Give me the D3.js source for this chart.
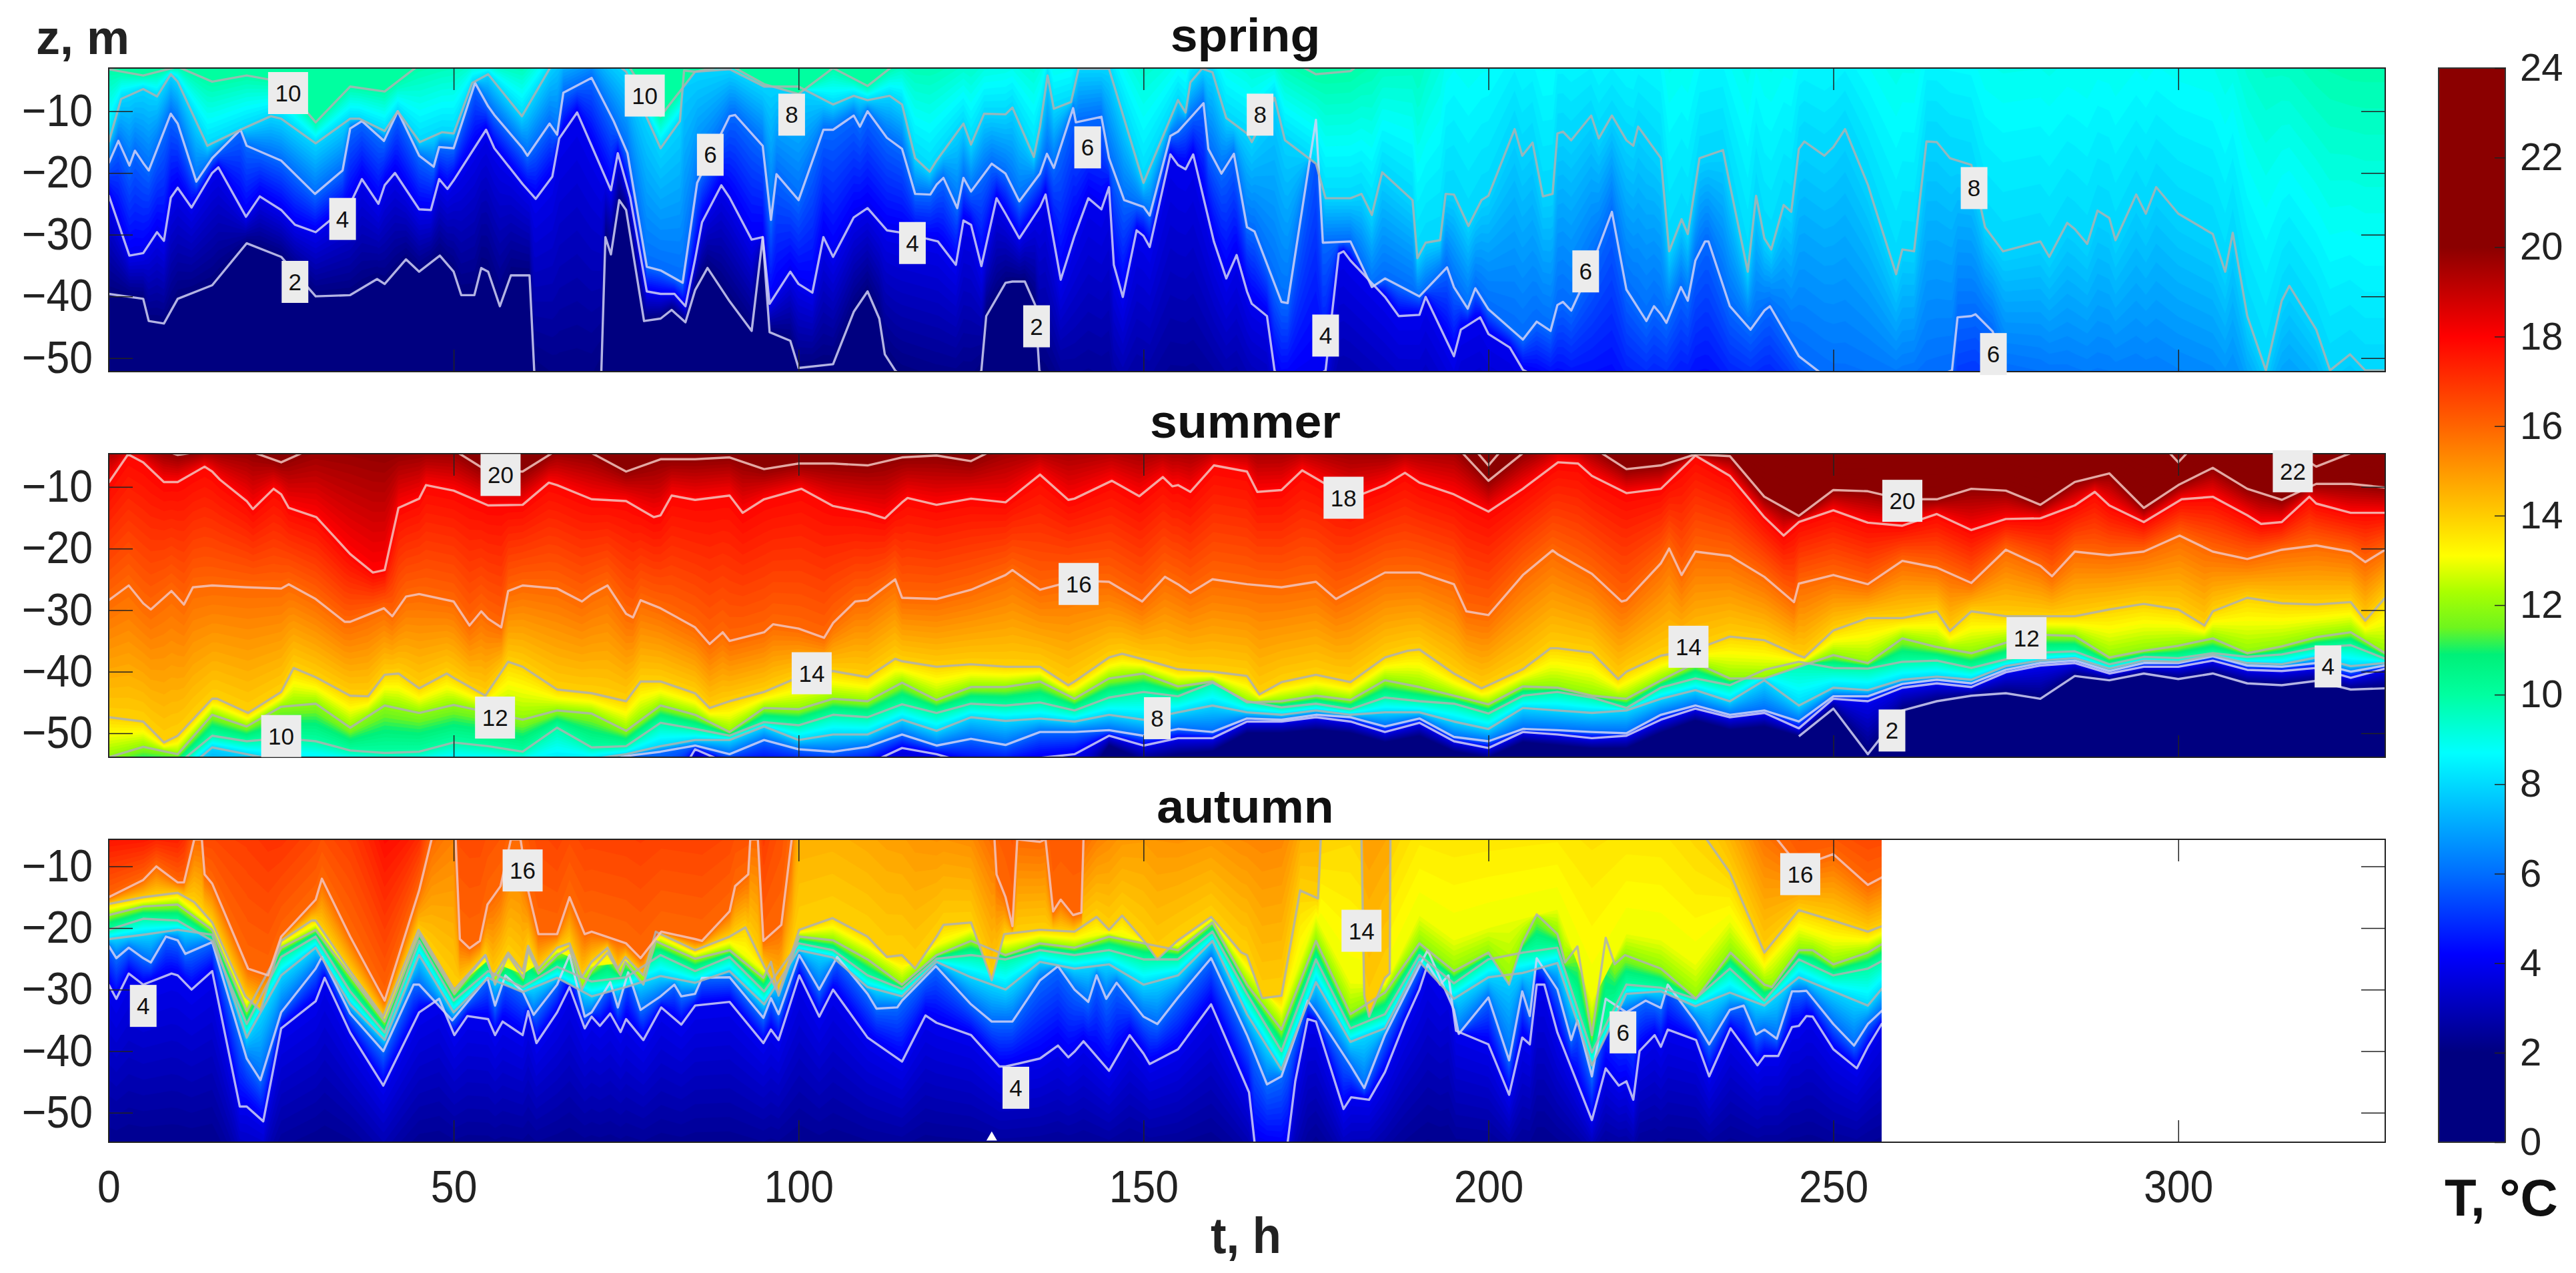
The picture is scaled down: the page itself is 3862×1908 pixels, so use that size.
<!DOCTYPE html>
<html>
<head>
<meta charset="utf-8">
<script src="https://cdn.jsdelivr.net/npm/d3@7"></script>
<style>
	body { margin:0; background:#fff; }
	text { font-family:"Liberation Sans", Arial, sans-serif; fill:#222; }
	.bold { font-weight:bold; }
	.tick line { stroke:#222; stroke-width:1.5; }
</style>
</head>
<body>
<div id="chart"></div>
<script>
// Isotherm depths z (m), every 5 h. Values above the panel top
// or under its bottom only steer the colour, their lines fall outside the clip.
var springL2 = [-39.6,-40.4,-40.4,-38.2,-31.4,-33.6,-40,-39.8,-38,-36,
	-36,-36,-36.6,-56,-56,-26,-43.6,-39,-40.8,-45,
	-51.6,-51,-39.2,-53,-55,-55,-37.8,-54,-60,-62,
	-64,-62,-62,-65,-68,-68,-66,-70,-72,-76,
	-76,-80,-85,-86,-88,-88,-88,-90,-90,-90,
	-92,-92,-92,-92,-92,-94,-94,-94,-94,-94,
	-96,-96,-96,-96,-96,-96,-96];
var springL4 = [-23.6,-33,-22.4,-20,-26.8,-26,-29.6,-25,-22,-25.9,
	-21.2,-13,-21.8,-17.6,-15.6,-20,-39.6,-34,-24,-36,
	-38,-33.6,-25.7,-29.7,-30,-28.4,-26.6,-25.5,-30.2,-22.3,
	-30.2,-18.7,-30.9,-39.2,-54,-53,-34.2,-40.1,-43,-49.7,
	-46.1,-51.9,-55,-58,-60,-60,-58,-60,-60,-62,
	-65,-68,-70,-70,-65,-70,-72,-74,-75,-76,
	-78,-80,-80,-82,-84,-85,-85];
var springL6 = [-18.4,-18.4,-12,-17.6,-15.6,-18,-22.8,-12.8,-14.6,-17.2,
	-16,-9.2,-16,-13.8,-4.6,-16.4,-35.8,-24,-10.8,-22,
	-24.4,-13,-10,-16.1,-21.9,-23,-20.1,-20.1,-11.7,-17.6,
	-25.5,-13.3,-18.3,-28.8,-40.9,-12.5,-31.1,-37.1,-40,-38.5,
	-42.1,-47,-41.4,-35,-38.9,-42.9,-34.2,-41.6,-42.3,-49.7,
	-54,-55,-55,-53,-43.2,-52.5,-54,-56,-57,-58,
	-60,-62,-64,-66,-68,-70,-70];
var springL8 = [-15,-6.4,-5.2,-15.2,-12.4,-11.2,-15.2,-11.2,-13.2,-15,
	-13.6,-4,-10.8,-1,1,-3.6,-16,-3.6,-3.2,-6,
	-6,-8.9,-8.2,-8.9,-18,-15.4,-10.5,-12.5,-3.9,0,
	-21.6,-8.2,-3.7,-13.6,-12.5,-18.5,-24.1,-20.5,-32.4,-23.5,
	-23.7,-17.2,-13.6,-11,-14.7,-17.6,-19,-21.9,-30.6,-16.1,
	-15.8,-21.9,-32.4,-15,-18.7,-32.7,-31.1,-29.1,-27.3,-26.2,
	-26.6,-29.9,-43.2,-40.7,-45.4,-48.6,-52];
var springL10 = [-3.2,-4.2,-2.8,-5.2,-4.2,-5.2,-11.8,-6,-6.8,-2.5,
	-1,-2,-2,3,5,-2,-10.8,-3.6,-2.5,-5.6,
	-7.2,-3,-5.9,-1.5,-1,1,3,3,4,8,
	4,4,6,3,-1,-4,-3.5,1,3,25,
	25,25,25,20,20,25,25,25,25,25,
	25,25,25,25,25,25,25,25,25,25,
	25,25,15,8,2,-1,-1];

var summerL2 = [-66,-66,-66,-66,-66,-66,-66,-66,-66,-66,
	-66,-66,-66,-66,-66,-66,-66,-56,-60,-60,
	-60,-60,-60,-60,-60,-60,-60,-60,-60,-52,
	-54.5,-53.5,-53,-50,-50,-49.5,-50,-51.5,-50.5,-53,
	-54,-51.5,-52,-52.5,-52.5,-50,-48,-49.5,-49,-50.5,
	-46,-53.4,-46.3,-44.8,-43.9,-43.5,-44.4,-40.7,-41.4,-40.3,
	-41.2,-40.3,-41.9,-42.2,-41.5,-42.9,-42.7];
var summerL4 = [-62,-62,-62,-62,-62,-62,-62,-62,-62,-62,
	-62,-62,-62,-62,-62,-62,-62,-52.6,-55,-55,
	-55,-56,-55,-52.4,-53.4,-55,-55,-54,-53.4,-50.4,
	-52,-50.8,-50.8,-48.1,-48.1,-47.4,-48.1,-49.8,-48.3,-51.3,
	-52.4,-49.8,-50.2,-50.8,-50.4,-47.8,-46,-47.4,-46.7,-49.2,
	-44.4,-44.8,-42.6,-41.9,-42.5,-40.1,-39,-38.6,-40.3,-39.2,
	-39.2,-38.2,-39.7,-39.9,-39.4,-41,-39.5];
var summerL6 = [-60,-60,-60,-58,-58,-58,-58,-58,-58,-58,
	-58,-58,-58,-58,-55,-53.7,-53,-52,-53.4,-51.1,
	-52.6,-53,-52.2,-50.2,-52,-50.9,-51.9,-49.8,-49.8,-49.5,
	-50.4,-49.3,-49.8,-47.6,-47.8,-47,-47.4,-48.9,-47.6,-50.6,
	-51.3,-49.3,-49.5,-49.8,-50,-47,-45.5,-47,-46.3,-48.1,
	-44,-44,-42,-41.3,-41.9,-39.7,-38.6,-38.2,-39.9,-38.6,
	-38.6,-37.5,-39,-39.2,-38.6,-40,-39];
var summerL8 = [-58,-58,-57,-52.3,-53.4,-54.5,-54.8,-55,-55,-55,
	-55,-55,-55,-55,-54.2,-53.4,-52.1,-51.1,-51.1,-48.9,
	-51.1,-50.2,-50.2,-47.8,-49.6,-47.4,-48,-47.6,-48.1,-47,
	-47.8,-46.6,-45.5,-46.6,-47,-46.3,-47,-46.6,-46.6,-48.1,
	-49.3,-45.9,-46.3,-46.7,-46.3,-44.4,-43,-44.8,-41.4,-45.5,
	-42.6,-43,-41.3,-40.8,-41.3,-39.1,-38.2,-37.8,-39.5,-38.2,
	-38.4,-37.3,-38.6,-38.8,-37.7,-39.1,-38.6];
var summerL10 = [-56,-56,-55,-50.4,-51.3,-50.8,-51.3,-52.8,-53.2,-53,
	-51.5,-52.1,-53,-49.1,-52.3,-52.1,-48.3,-49.3,-50.4,-48.2,
	-48.7,-47,-47.4,-45.3,-46.7,-45.2,-45.5,-45,-46.3,-44.2,
	-43.3,-44,-41.8,-44.8,-45.8,-45.2,-46.1,-44.2,-44.8,-45.2,
	-46.8,-43.9,-43.3,-44.2,-45.9,-42.6,-41.1,-42.2,-39.7,-38.4,
	-39.4,-39.5,-38.4,-38.2,-39.4,-38,-36.9,-36.7,-38.8,-37.6,
	-37.8,-37,-37.6,-37.2,-36.1,-35.7,-37.9];
var summerL12 = [-53.9,-52.2,-53.4,-47,-48.9,-45.7,-45.2,-49.1,-45.5,-46.7,
	-45.4,-46.6,-47.8,-46.3,-46.8,-49.6,-45.5,-47,-49.8,-45.9,
	-46.1,-44.4,-44.8,-41.8,-44.6,-42.5,-42.5,-41.6,-44.4,-41.1,
	-40.3,-42.4,-41.6,-45,-44.8,-43.9,-44.6,-41.4,-42.5,-43.9,
	-45.3,-42.4,-42.6,-43.9,-44.4,-41.4,-38.6,-41.1,-41.1,-39.2,
	-37.3,-38.6,-34.6,-36,-37,-35.3,-34,-34.2,-37.7,-36.6,
	-35.8,-34.6,-37,-35.9,-34.4,-33.6,-37];
var summerL14 = [-47.4,-48.1,-50.4,-44.4,-46.6,-43.3,-40.9,-43.9,-40.5,-42.7,
	-41,-43.9,-39.2,-42.9,-43.5,-44.8,-41.6,-43.5,-44.8,-43.3,
	-40.9,-39.9,-40.9,-38.3,-39.2,-38.8,-39.2,-39.2,-41.6,-37.7,
	-38,-39.6,-40,-40.7,-41.7,-40.5,-41.7,-37.7,-36.4,-40.3,
	-42.2,-39.6,-36.2,-36.9,-40,-37.4,-36.4,-34.3,-34.9,-37.4,
	-33.3,-31.3,-31.3,-30.2,-30.2,-31,-31,-31,-29.9,-29,
	-29.9,-30.2,-28,-28.9,-29.1,-28.7,-28];
var summerL16 = [-28.4,-28.9,-28,-26,-26.3,-26.5,-28.2,-31.9,-29.9,-27.4,
	-28.6,-31.4,-26,-26.5,-27.4,-30.6,-29.7,-32.8,-35,-33.6,
	-33,-32.1,-28.4,-28,-28.2,-26.7,-24.3,-26.7,-25.2,-25.4,
	-28.4,-25.8,-25,-25.8,-26.3,-25.4,-26.9,-23.9,-23.9,-25.8,
	-30.8,-24.3,-20.9,-24.1,-28.4,-22.4,-20.5,-21.2,-24.6,-25.7,
	-24.3,-25.8,-22,-23.1,-25.6,-20.2,-22.8,-20.5,-21.1,-20.5,
	-17.9,-20.5,-21.7,-20.2,-19.5,-20.5,-20.2];
var summerL18 = [-9.3,-6,-9.2,-7.5,-12.3,-11.2,-15.7,-20.9,-23.5,-11.9,
	-10.6,-13,-12.9,-9.7,-12,-12.3,-14.6,-12.1,-11.4,-12,
	-10.3,-13.1,-14.2,-12.5,-12.9,-11.9,-12.5,-8,-11.9,-9.7,
	-11.5,-9.7,-6.7,-7.5,-10.5,-8.6,-11.9,-9.7,-9.3,-11.2,
	-14,-10.3,-6,-8.2,-11,-10.3,-4.9,-8.2,-14.9,-15.7,
	-13.8,-15.8,-16.3,-14.4,-17,-15.2,-15.1,-13,-13,-15.7,
	-12.1,-11.6,-14.6,-15.7,-12.7,-14.2,-14.2];
var summerL20 = [-3,-3,-4.8,-4,-4,-6,-3.5,-3.5,-4.5,-4,
	-4,-7.5,-7.5,-4,-4.5,-7.5,-5.5,-5.5,-5.2,-7.1,
	-6.2,-6.2,-6.5,-5.2,-4.9,-5.8,-3,-3,-2.5,-2.5,
	-3,-3,-3,-3,-3,-3,-3.5,-4,-3,-3,
	-9,-4.5,-2,-3.5,-7.1,-6.5,-4.7,-5,-11.6,-14.7,
	-10.5,-10.7,-12,-12,-10.3,-10.6,-12.9,-9.2,-7.8,-13.4,
	-9.7,-6.9,-10.3,-12.1,-9.5,-9.5,-10.1];
var summerL22 = [0,0,0,0,0,0,0,0,0,0,
	0,0,0,0,0,0,0,0,0,0,
	0,0,0,0,0,0,0,0,0,0,
	0,0,0,0,0,0,0,0,0,0,
	-6.5,0,0,0,0,0,0,0,0,0,
	0,0,0,0,0,0,0,0,0,0,
	-6,0,0,-3,-6.7,-4.5,-3];

var autumnL2 = [-60,-60,-60,-60,-66,-62,-60,-60,-64,-60,
	-60,-60,-60,-60,-60,-60,-60,-60,-60,-60,
	-60,-60,-60,-60,-60,-60,-60,-60,-60,-60,
	-60,-60,-60,-62,-70,-60,-64,-62,-60,-60,
	-60,-60,-60,-60,-60,-60,-60,-60,-60,-60,
	-60,-60,-60];
var autumnL4 = [-29.2,-29.2,-27.7,-27,-49,-36.3,-31.9,-37,-45.6,-33.7,
	-37.4,-34.8,-37.4,-33.7,-34.4,-34.8,-33.1,-32.6,-32,-38.5,
	-27.7,-30,-37.8,-41.7,-35.4,-37.4,-42.5,-41.2,-40.1,-43.2,
	-40.4,-39.7,-32.4,-43,-56,-35.2,-47.9,-43.4,-30,-37.4,
	-38.9,-37.8,-37,-51.2,-44.9,-38.9,-38.2,-36.3,-40.8,-35.9,
	-39.7,-39.3,-34];
var autumnL6 = [-22.9,-24.9,-22,-22.4,-41.2,-33.7,-26.6,-33.9,-41,-29.2,
	-35,-27.8,-30.3,-29.2,-33.7,-30,-31.1,-30.7,-28,-34.4,
	-24.4,-26.2,-30.7,-31.8,-26.4,-32.4,-35.2,-28.5,-30,-31.5,
	-34.4,-31.3,-24.9,-37.4,-44.1,-33.7,-42.3,-37.4,-26.2,-33.3,
	-31.3,-30.3,-30,-44.1,-33.7,-33,-35.2,-33.3,-36.5,-30.3,
	-35.6,-35.6,-30.3];
var autumnL8 = [-21.8,-21.1,-20.3,-21.1,-37.8,-27.7,-23.2,-32.4,-38.2,-24.4,
	-33.7,-28.1,-30.4,-28.1,-31.1,-29.6,-27.8,-28.9,-27,-32.4,
	-23.6,-24.8,-29.6,-31.1,-25.5,-28,-30,-25.5,-26.6,-25.9,
	-29.2,-27.7,-22.1,-34,-43,-28.8,-38.5,-36.3,-25.5,-31.5,
	-28,-27.3,-25.7,-42.3,-30.7,-30.3,-32.7,-30.5,-32.6,-28,
	-30.3,-32.6,-25.9];
var autumnL10 = [-20.3,-18.5,-18.8,-22.1,-35.6,-24.7,-21.4,-30.3,-37,-22.1,
	-31.8,-27,-29.6,-26.3,-28.7,-28,-24.4,-27,-24.7,-30.3,
	-22.5,-23.6,-27.7,-29.9,-25,-24.4,-25.1,-23.6,-24.4,-23.6,
	-25.1,-25.1,-20.6,-30.7,-40,-25.1,-36.3,-34,-24.4,-29,
	-25.1,-24,-23.2,-40.2,-29.2,-29.7,-31.5,-26.6,-31.8,-25.1,
	-27.7,-26.6,-23.6];
var autumnL12 = [-17.9,-16.5,-16.2,-20.3,-33.5,-23.2,-20.3,-27.7,-35.2,-21,
	-30.5,-25.7,-28,-24.4,-26.9,-26.5,-22.5,-25,-23.6,-28,
	-21.4,-22,-25.1,-29.2,-24.4,-22.1,-24.4,-22.5,-23.2,-21.4,
	-22.5,-23.6,-19.1,-29.2,-36.5,-22.1,-34,-30.5,-22.5,-27,
	-24,-22.5,-21,-37.4,-25.5,-26.6,-31.5,-24,-29.2,-23.6,
	-25.9,-24,-20.6];
// 13 deg has no line in the picture, it only holds the yellow up to the top
var autumnL13 = [-17,-15.8,-15.2,-19.7,-32.3,-22.6,-19.5,-27.3,-34.6,-20.6,
	-30,-25.2,-27.5,-23.8,-26.2,-25.6,-21.7,-24.3,-22.5,-27.1,
	-20.8,-20.2,-23.2,-26.8,-22.9,-20.6,-22.7,-21.4,-21.9,-20.8,
	-22.2,-22.8,-18.6,-26.8,-33.7,-18.4,-29,-29.3,-18,-22,
	-20,-18.5,-17,-32,-21,-22,-26,-19,-26.6,-20.3,
	-22.3,-22.3,-19.5];
var autumnL14 = [-16.1,-15,-14.3,-19.1,-31.1,-22.1,-18.8,-27,-34.1,-20.3,
	-29.6,-24.7,-27,-23.2,-25.5,-24.7,-21,-23.6,-21.4,-26.2,
	-20.3,-18.4,-21.4,-24.4,-21.4,-19.1,-21,-20.3,-20.6,-20.3,
	-22,-22,-18.2,-24.4,-31,-14.7,-2,-28.1,5,5,
	5,5,5,5,5,5,-3,-11,-24,-17.1,
	-18.8,-20.6,-18.4];
var autumnL16 = [-15,-12.2,-12.6,-12.8,-24.4,-21.4,-15.4,-21.4,-31.8,-13.9,
	2,-16.2,-3,-21,-20.6,-22.5,-20.6,-21.8,-17.3,-22.1,
	25,25,20,15,5,2,-15,-6,-15.8,2,
	10,5,5,3,5,15,20,25,40,40,
	40,40,40,40,40,40,40,10,-3,-10,
	-8,-13,-10];
var autumnL18 = [-4,-4,-3,10,20,8,15,15,-4,0,
	40,30,40,20,20,20,20,20,20,15,
	80,80,80,80,80,80,60,60,60,80,
	80,80,80,80,80,80,80,80,80,80,
	80,80,80,80,80,80,80,80,40,15,
	8,10,8];

// Peaks and troughs between the 5 h readings: [t, z]
var springL2Peaks = [[5.8,-44],[8,-44.4],[38.9,-37.2],[43.1,-34],[48,-33.4],[51.1,-39.8],[53,-39.8],[54,-35.4],[56.7,-41.6],[58.3,-36.6],[61,-36.6],[61.7,-52.5],[71.4,-52.5],[72,-30.4],[72.8,-33.2],[74,-24.4],[77.6,-44],[81.6,-42.2],[83.6,-44.2],[86.8,-35.4],[93.2,-45.6],[94.8,-30.4],[95.8,-45.8],[98.8,-47.2],
	[108,-42.5],[111.7,-43.6],[112.5,-49.4],[114,-52],[126.5,-52],[127.2,-43.2],[131,-37.6],[132.8,-37.6],[134.3,-41.4],[134.9,-52]];
var springL4Peaks = [[3,-33.4],[7,-29.6],[8,-31],[9,-24],[12,-25.6],[15.9,-19.1],[19.9,-27.1],[21.9,-23.8],[27,-28.4],[36.7,-21],[39.1,-25],[41.5,-20],[46.7,-26],[47.9,-21],[49.1,-22.6],[54.7,-13],[55.9,-16],[61.9,-24.2],[64.3,-20.6],[65.3,-14.4],[67.9,-10.2],[72.8,-22.8],[73.8,-16.8],[75.6,-24],[78,-39.2],[82,-39.6],[83.6,-41.6],[86,-28],[88.8,-22],[93.2,-30.8],[94.8,-30.4],[95.8,-41.2],[98.8,-36],[102,-39.4],[103.6,-30.4],[108,-27.2],
	[112.8,-29.3],[120.2,-31.1],[122.8,-34.9],[123.9,-27.7],[126.5,-35.1],[128.7,-24.1],[132,-30.6],[135.8,-23.5],[138,-37.3],[142,-24.1],[143.9,-25.9],[145.7,-34.9],[147,-40.1],[149,-29.3],[150.9,-32],[153.9,-17],[156.1,-19.4],[157.2,-17],[160.2,-31.1],[162,-37.1],[163.5,-33.3],[165.7,-41.2],[167.9,-43.2],[169,-52],[176.4,-52],[178.3,-33.1],[179,-32.7],[187,-43.2],[190.9,-40.1],[195,-49.7],[196,-45.4],[198.8,-43.4],[203.1,-48.3]];
var springL6Peaks = [[1.4,-14.8],[3,-18.8],[3.8,-16.4],[5.8,-19.6],[9,-10.4],[12.7,-21.4],[19.1,-13],[29.9,-23.4],[33.9,-19.6],[36.7,-11.6],[39.9,-14.8],[41.9,-10],[47.1,-19],[47.9,-15.8],[53.1,-5.4],[55.9,-10.6],[60.7,-17.2],[63.9,-12],[65.9,-7],[73.2,-11.6],[75.2,-16.8],[78,-35.2],[83.2,-37.8],[85.3,-21.6],[90.8,-10.6],[94.8,-15.6],[96,-27.6],[96.8,-20.2],[100,-24.4],[103.6,-13],
	[108,-10.7],[108.9,-12.5],[112.8,-14.3],[116.9,-23.4],[119.1,-23.5],[121,-20.8],[123,-25.7],[123.9,-20.8],[128,-18.5],[132,-24.6],[136,-16.9],[137,-19.2],[139.8,-9.5],[140.2,-11.8],[143.9,-10.9],[147.2,-24.4],[150.9,-26.9],[153.9,-14],[158.7,-8.7],[159.4,-16.1],[161.3,-20.1],[163.1,-16.9],[166.1,-29.5],[170.9,-41.1],[175,-11.4],[176,-31.3],[183.1,-38.5],[194,-35.3],[197,-42],[198.1,-38.7],[205,-47],[207,-44.1],[209,-45.6],[210.8,-40.9],[212,-42.3],[217.9,-26.3],
	[222.9,-44],[224,-41.6],[225.8,-44.3],[227.9,-38.5],[228.9,-40.7],[231.4,-31.1],[231.9,-31.1],[238,-45.4],[240.8,-41.6],[267.2,-52],[268,-43.4],[270.6,-42.9],[273.1,-45.7]];
var springL8Peaks = [[1.8,-8],[7,-7.6],[9,-4],[14.3,-15.6],[19.5,-12.8],[23.5,-10.8],[30,-15.2],[36.3,-11.2],[41.9,-10],[45.1,-15],[48.3,-13.4],[52.7,-5.4],[59.9,-10.8],[82.8,-11.6],[83.4,-3.4],
	[108,-7.5],[113.2,-7.5],[116.9,-17.6],[119,-19.8],[123.9,-12],[125,-15.4],[126.9,-10.4],[131,-9.4],[134.1,-17.4],[136.1,-4.2],[137,-9.6],[139.5,-8.5],[140.6,-3.1],[145,-3.1],[156.1,-10.2],[156.8,-5.3],[158.5,-3.1],[162,-11.1],[165.7,-15],[169,-7.8],[170.5,-14.7],[176.4,-24.1],[181.6,-23.4],[183.1,-26.8],[184.6,-19.9],[189,-24.4],[189.7,-33.8],[190.9,-31.3],[193,-30.9],[193.8,-23.4],[197.1,-28.6],[199,-24.4],[203.8,-12.9],[204.9,-17.2],[206.4,-15.1],[207.9,-23.8],[209.3,-23.4],[210.8,-13.3],[212,-14.7],[214.9,-10.7],[216,-14.4],[217.9,-10.7],
	[221,-15.6],[221.7,-12.5],[226.2,-32.7],[228,-27.5],[228.9,-29.9],[230.6,-17.6],[234,-16.3],[237.6,-36],[238.8,-23.7],[241,-32.4],[242.8,-25.2],[243.9,-26.3],[245.8,-14.9],[248.7,-17.2],[251.7,-12.9],[255.8,-24.8],[259.1,-36.4],[261.7,-32.7],[263.5,-14.9],[266.9,-17.6],[272,-28.8],[274.6,-32.7],[281.3,-33.6],[283.9,-28.1],[286.8,-31.5],[288.3,-26.1],[290.9,-30.9],[293.9,-23.5],[295.3,-26.6],[296.8,-22.3],[306.8,-36],[307.9,-29.7],[312.7,-52],[316.1,-38.3],[322,-52],[324.9,-49.4],[327.1,-52]];

var summerL14Peaks = [[8,-51.5],[15.7,-44.4],[20.2,-46.7],[26.8,-39.4],[37.6,-44],[42,-40.3],[49,-40.3],[54.6,-43.9],[57.9,-38.4],[77.1,-41.6],[87.1,-45.9],
	[114,-37.9],[139.1,-42.2],[146.9,-37.1],[166.8,-43.7],[188.3,-36.6],[199,-42.7],[209,-36.2],[218.8,-41.2],[245.8,-37.7],[265,-30.2],[266.9,-33.4],[303.8,-32.5],[327.1,-31.7]];
var summerL16Peaks = [[2.9,-26],[6.1,-29.9],[9.1,-26.9],[10.9,-29.1],[12.2,-26.3],[26.1,-25.8],[34.2,-31.9],[39.9,-29.7],[41.1,-31],[43.1,-27.8],[52.3,-32.5],[54,-30.2],[56.9,-32.8],[57.9,-26.9],[68.6,-28.6],[72.3,-26],[76,-31.2],[77.1,-28.4],[87.1,-35.5],[89,-33.6],[96.3,-32.3],[103.7,-34.5],[108.2,-28.6],
	[114,-25],[131,-23.5],[149.8,-28.6],[153.1,-24.6],[156.8,-27.2],[177.9,-28.2],[196.8,-30.2],[209.3,-20.3],[219.3,-28.6],[226.2,-20],[228,-24.3],[244.3,-28.7],[281.7,-24.5],[300.2,-17.9],[327.1,-22.2]];
var summerL18Peaks = [[2.8,-4.7],[8,-9.2],[13.9,-6.7],[16.1,-8.8],[20.9,-13.6],[23.9,-10.3],[26.1,-13.4],[30.1,-14.9],[38.3,-23.9],[42,-13.4],[46,-9.7],[55,-13],[63.8,-9.3],[79,-14.9],[81.6,-11.4],[91.9,-14.2],[100.4,-10.3],
	[112.5,-15.1],[115.8,-11.8],[135,-8],[139.1,-12.1],[145.4,-9],[149.4,-11.5],[152.8,-8.4],[154.2,-9.9],[156.8,-10.8],[160.2,-6.5],[166.5,-10.8],[173,-7.3],[187.9,-7.7],[200,-14],[210.1,-6],[213,-6.2],[242.8,-17.9],[287.9,-10.8],[300.5,-12],[312,-16],[319,-11.6]];

var autumnL4Peaks = [[1.1,-31.5],[2.9,-27.4],[9.1,-27.4],[12,-30],[15,-27],[19,-49],[22.4,-51.4],[31.3,-28.1],[39.8,-45.6],[47.9,-31.5],[50.1,-37.4],[52,-34.3],[56,-37.4],[57.1,-35.2],[60.8,-33.5],[62,-38.7],[66.8,-29.6],[69,-36.3],[71.2,-35.9],[72.7,-33.9],[74.2,-36.9],[77.5,-38.2],[80.1,-32.9],[83,-35.7],[94.9,-38.7],[96,-36.5],[97.1,-38.2],[100.1,-27.7],[103,-34.4],
	[115,-41.7],[118.4,-34.2],[129.1,-42.5],[137.6,-39.1],[139.1,-41],[141.3,-38.4],[145,-43.2],[148,-37.4],[150.9,-42.1],[159.8,-32.4],[165.3,-46.7],[166.1,-54.8],[170.9,-54.8],[172,-44.9],[173.8,-34.8],[179,-49.4],[180.1,-47.5],[182.7,-47.9],[187.9,-35.2],[191.2,-25.9],[193,-29.2],[194.2,-27.7],[195.3,-36.7],
	[203,-47.1],[204.9,-37.8],[206,-38.9],[207,-29.2],[208.1,-29.2],[215,-51.2],[217,-42.8],[218.9,-45.6],[220,-44.9],[221,-47.9],[221.9,-40],[224.1,-37.4],[225,-39.3],[226,-36.5],[230.1,-38.2],[232,-44.1],[235.1,-36.3],[239,-42.3],[242,-40.8],[244,-36.1],[246.1,-34.3],[247,-34.4],[253.4,-42.8],[257,-35.6]];
var autumnL6Peaks = [[1.1,-24.9],[2.9,-23.2],[6.1,-25.6],[8.3,-21.4],[11.1,-24.2],[15,-22.3],[22,-44.7],[30.9,-24.7],[39.8,-40],[44.2,-29.2],[49.8,-35],[54.9,-28.1],[56,-32.6],[57.5,-27.7],[61.6,-34.1],[66.8,-24.4],[69,-34.4],[72.7,-28.8],[73.8,-32.9],[75.3,-27.2],[77.1,-33.3],[82,-29.2],[83,-31.1],[86,-28.1],[94.9,-34.6],[96,-31.4],[97.1,-34],[100.1,-24.4],[103,-30],[105.6,-24.7],
	[111.3,-33.1],[114.3,-32.9],[119.9,-26.2],[128,-35.2],[131,-35.2],[137.6,-26.2],[142,-32],[143.2,-27.7],[144.6,-31.5],[146.1,-28.9],[152,-35.6],[159.8,-24.9],[167.9,-45.4],[173.8,-31.8],[182,-46],[191.2,-23.6],[195.7,-37.2],
	[203,-41.5],[204.9,-30.3],[206,-34.3],[207,-24.9],[212,-38.2],[212.9,-35],[217,-31.5],[222.8,-31.8],[225,-33],[226,-29.2],[232,-38.9],[237,-32.6],[238.8,-37.3],[241.8,-38],[244,-30.3],[246.1,-30.2],[253,-39.1]];
var autumnL12Peaks = [[50.1,-30.7],[54.6,-24.4],[56,-29.2],[57.9,-24.4],[60.1,-28.1],[60.8,-23.6],[62.3,-27.4],[66.8,-23.2],[68.6,-30],[72.3,-24],[74.2,-27.7],[74.9,-25.5],[77.5,-29.2],[79.3,-22.1],[94.9,-28.1],[96,-25.5],[97.1,-31],[100.1,-21.4],
	[203,-29.2],[204.9,-22.5],[207,-17.8],[211.1,-25.6],[212.9,-23],[215,-37.4],[217,-21.6],[218.3,-25.9],[219.8,-24.4],[230.1,-31.5],[235.1,-24],[241.1,-29.6],[247,-23.6]];
var autumnL14Peaks = [[12.4,-15.8],[19.8,-31.1],[22,-33.4],[29.4,-18.8],[39.8,-34.4],[44.9,-20.3],[50.1,-30],[54.6,-24.4],[55.7,-28.1],[57.9,-24],[60.8,-22.9],[62.3,-26.6],[66.8,-22.5],[68.6,-28],[72.3,-23.2],[73.8,-26.6],[74.9,-24.7],[77.5,-27.7],[79.3,-20.6],[92.3,-19.9],[97.1,-30.7],[100.1,-20.3],[104.9,-18.4],
	[112.8,-24.7],[116.9,-26.6],[121,-19.5],[128,-28.5],[129.8,-21],[143.2,-18.2],[146.9,-18],[152,-25.1],[159.8,-18.2],[164.2,-24],[167.2,-31.4],[172.7,-13.9],[175.3,-15.2],[175.7,-5.6],[181.6,-5.6],[182,-31],[182.7,-34.4],[185.7,-27.4],[185.8,-5.6]];
var autumnL16Peaks = [[6.9,-10],[10.9,-12.6],[12.4,-5.6],[13.5,-5.6],[13.9,-11.3],[20.2,-26.6],[23.1,-27.7],[30.9,-12],[46.8,-5.6],[50.9,-21.8],[52.3,-23.3],[53.8,-22.1],[54.9,-16.2],[56.8,-13.2],[58.3,-5.6],[59.7,-5.6],[60.8,-13.9],[62.3,-21],[66.8,-15],[69,-21],[77.1,-24.9],[80.1,-20.6],[86,-22.1],[90.8,-13.2],[92.7,-11.3],[93,-5.6],[94.1,-5.6],[94.9,-22.1],[97.5,-19.5],[99,-5.6],
	[128.4,-5.6],[128.7,-11.3],[131,-19.7],[131.7,-5.6],[135.8,-5.6],[136.9,-17.3],[138,-15.4],[139.8,-17.9],[141,-17.5],[141.3,-5.6]];

// Contour labels: t, z, text
var springLabels = [[26,-7,"10"],[77.7,-7.4,"10"],[99,-10.5,"8"],[87.2,-17,"6"],[33.9,-27.4,"4"],[27,-37.6,"2"],
	[116.5,-31.3,"4"],[141.9,-15.8,"6"],[166.9,-10.5,"8"],[134.5,-44.8,"2"],[176.4,-46.3,"4"],[214.1,-35.9,"6"],
	[270.4,-22.4,"8"],[273.2,-49.3,"6"]];
var summerLabels = [[56.8,-8,"20"],[25,-50.4,"10"],[56,-47.4,"12"],[101.9,-40.2,"14"],[179,-11.7,"18"],[140.6,-25.7,"16"],
	[152,-47.5,"8"],[260,-12.2,"20"],[229,-35.9,"14"],[278,-34.5,"12"],[258.5,-49.5,"2"],[316.6,-7.4,"22"],[321.7,-39.1,"4"]];
var autumnLabels = [[60,-10.6,"16"],[5,-32.6,"4"],[131.5,-45.9,"4"],[181.6,-20.4,"14"],[219.5,-36.9,"6"],[245.2,-11.2,"16"]];

var depthTicks = [-10,-20,-30,-40,-50];
var timeTicks = [0,50,100,150,200,250,300];
var colorTicks = [0,2,4,6,8,10,12,14,16,18,20,22,24];

// Colour bar of the picture, flat under 2 and over 20
var colorValues = [0,2,4.2,6,8.7,10,10.9,11.5,12.3,13.1,14,16,18,20,24];
var colorStops = ["#000080","#000080","#0000ff","#006eff","#00ffff","#00ffa0","#00f078","#6ef51e","#aaff00","#ffff00","#ffcd00","#ff6400","#ff0000","#8b0000","#8b0000"];

var panels = [
	{title:"spring", top:102, bottom:557, zTop:-3, zBottom:-52.2, tMax:330, baseline:77,
		levels:[2,4,6,8,10], depths:[springL2,springL4,springL6,springL8,springL10],
		peaks:{2:springL2Peaks,4:springL4Peaks,6:springL6Peaks,8:springL8Peaks}, labels:springLabels},
	{title:"summer", top:680, bottom:1135, zTop:-4.6, zBottom:-53.9, tMax:330, baseline:656, hideL2Before:245,
		levels:[2,4,6,8,10,12,14,16,18,20,22], depths:[summerL2,summerL4,summerL6,summerL8,summerL10,summerL12,summerL14,summerL16,summerL18,summerL20,summerL22],
		peaks:{14:summerL14Peaks,16:summerL16Peaks,18:summerL18Peaks}, labels:summerLabels},
	{title:"autumn", top:1258, bottom:1712, zTop:-5.6, zBottom:-54.8, tMax:257, baseline:1233,
		levels:[2,4,6,8,10,12,13,14,16,18], depths:[autumnL2,autumnL4,autumnL6,autumnL8,autumnL10,autumnL12,autumnL13,autumnL14,autumnL16,autumnL18],
		peaks:{4:autumnL4Peaks,6:autumnL6Peaks,12:autumnL12Peaks,14:autumnL14Peaks,16:autumnL16Peaks}, quiet:[13], labels:autumnLabels}
];

var width = 3862;
var height = 1908;
var left = 163;
var right = 3576;
var bandSteps = 12; // colour steps between two isotherms

var svg = d3.select("#chart").append("svg")
	.attr("width", width)
	.attr("height", height);

var x = d3.scaleLinear().domain([0,330]).range([left,right]);
var color = d3.scaleLinear().domain(colorValues).range(colorStops).interpolate(d3.interpolateRgb);

// Merge the 5 h readings of one isotherm with its peaks, a peak replaces a reading right next to it
function mergeKnots(arr, peaks){
	peaks = peaks || [];
	var knots = [];
	arr.forEach(function(v,i){
		var t = i*5;
		var near = peaks.some(function(d){ return Math.abs(d[0]-t) < 0.6; });
		if (!near) knots.push([t,v]);
	});
	knots = knots.concat(peaks);
	knots.sort(function(a,b){ return a[0]-b[0]; });
	return knots;
}

// Stroke of an isotherm, the picture uses lavender, grey and pink
function lineColor(level){
	if (level <= 6) return "#d2d2f4";
	if (level <= 14) return "#aeb2b2";
	return "#f2c6c0";
}

panels.forEach(function(p, pi){
	var y = d3.scaleLinear().domain([p.zTop,p.zBottom]).range([p.top,p.bottom]);
	var g = svg.append("g");
	var knots = p.depths.map(function(arr,li){
		return mergeKnots(arr, p.peaks[p.levels[li]]);
	});
	var depthAt = knots.map(function(k){
		return d3.scaleLinear().domain(k.map(function(d){ return d[0]; })).range(k.map(function(d){ return d[1]; }));
	});
	var times = Array.from(new Set(d3.merge(knots).map(function(d){ return d[0]; }))).sort(d3.ascending);
	// Only the measured part of the panel is coloured
	var clipId = "clip" + pi;
	svg.append("clipPath").attr("id",clipId).append("rect")
		.attr("x",left).attr("y",p.top)
		.attr("width",x(p.tMax)-left).attr("height",p.bottom-p.top);
	var field = g.append("g").attr("clip-path","url(#" + clipId + ")");
	field.append("rect")
		.attr("x",left).attr("y",p.top)
		.attr("width",right-left).attr("height",p.bottom-p.top)
		.attr("fill",color(p.levels[0]));
	// Paint cold to warm, each fill runs from panel top down to its isotherm
	var area = d3.area()
		.x(function(d){ return x(d[0]); })
		.y0(p.top-5)
		.y1(function(d){ return y(d[1]); });
	for (var i = 0; i < p.levels.length-1; i++){
		var steps = Math.round(bandSteps*(p.levels[i+1]-p.levels[i])/2);
		for (var k = 1; k <= steps; k++){
			var f = k/steps;
			var lower = depthAt[i];
			var upper = depthAt[i+1];
			var mix = times.map(function(t){ return [t, lower(t) + (upper(t)-lower(t))*f]; });
			var c = color(p.levels[i] + (p.levels[i+1]-p.levels[i])*f);
			field.append("path")
				.datum(mix)
				.attr("d",area)
				.attr("fill",c)
				.attr("stroke",c)
				.attr("stroke-width",0.6);
		}
	}
	// Isotherm lines
	knots.forEach(function(k, li){
		var level = p.levels[li];
		if (p.quiet && p.quiet.indexOf(level) > -1) return;
		var hideBefore = (level == 2 && p.hideL2Before) ? p.hideL2Before : -1;
		var line = d3.line()
			.defined(function(d){ return d[0] >= hideBefore; })
			.x(function(d){ return x(d[0]); })
			.y(function(d){ return y(d[1]); });
		field.append("path")
			.datum(k)
			.attr("d",line)
			.attr("fill","none")
			.attr("stroke",lineColor(level))
			.attr("stroke-opacity",0.85)
			.attr("stroke-width",3.4)
			.attr("stroke-linejoin","round");
	});
	// White mark at the bottom of the autumn panel
	if (p.title == "autumn"){
		g.append("path")
			.attr("d",d3.symbol().type(d3.symbolTriangle).size(110))
			.attr("transform","translate(" + x(128) + "," + (p.bottom-7) + ")")
			.attr("fill","#fff");
	}
	// Frame and ticks
	g.append("rect")
		.attr("x",left).attr("y",p.top)
		.attr("width",right-left).attr("height",p.bottom-p.top)
		.attr("fill","none").attr("stroke","#222").attr("stroke-width",2);
	var axLeft = g.append("g")
		.attr("transform","translate(" + left + ",0)")
		.call(d3.axisLeft(y).tickValues(depthTicks).tickSize(-36));
	axLeft.select(".domain").remove();
	axLeft.selectAll("text")
		.attr("x",-24/0.92)
		.attr("transform","scale(0.92,1)")
		.style("font-size","68px");
	var axRight = g.append("g")
		.attr("transform","translate(" + right + ",0)")
		.call(d3.axisRight(y).tickValues(depthTicks).tickSize(-36).tickFormat(""));
	axRight.select(".domain").remove();
	var axTop = g.append("g")
		.attr("transform","translate(0," + p.top + ")")
		.call(d3.axisTop(x).tickValues(timeTicks.slice(1)).tickSize(-33).tickFormat(""));
	axTop.select(".domain").remove();
	var axBottom = g.append("g")
		.attr("transform","translate(0," + p.bottom + ")")
		.call(d3.axisBottom(x).tickValues(timeTicks.slice(1)).tickSize(-33).tickFormat(""));
	axBottom.select(".domain").remove();
	// Contour labels
	p.labels.forEach(function(d){
		var w = d[2].length > 1 ? 60 : 40;
		g.append("rect")
			.attr("x",x(d[0])-w/2).attr("y",y(d[1])-31)
			.attr("width",w).attr("height",63)
			.attr("fill","#ececec");
		g.append("text")
			.attr("x",x(d[0])).attr("y",y(d[1])+13)
			.attr("text-anchor","middle")
			.style("font-size","35px")
			.style("fill","#111")
			.text(d[2]);
	});
	// Panel title
	g.append("text")
		.attr("class","bold")
		.attr("transform","translate(1867," + p.baseline + ") scale(1.05,1)")
		.attr("text-anchor","middle")
		.style("font-size","70px")
		.style("fill","#111")
		.text(p.title);
});

// Time labels under the last panel
var lastY = panels[2].bottom;
var axTime = svg.append("g")
	.attr("transform","translate(0," + lastY + ")")
	.call(d3.axisBottom(x).tickValues(timeTicks).tickSize(0).tickPadding(0));
axTime.select(".domain").remove();
axTime.selectAll("text")
	.attr("y",90).attr("dy",0)
	.attr("transform","scale(0.92,1)")
	.style("font-size","68px");

svg.append("text").attr("class","bold")
	.attr("x",54).attr("y",81)
	.style("font-size","72px")
	.text("z, m");
svg.append("text").attr("class","bold")
	.attr("transform","translate(1868,1878) scale(0.93,1)")
	.attr("text-anchor","middle")
	.style("font-size","76px")
	.text("t, h");

// Colour bar
var barTop = 102;
var barBottom = 1712;
var barLeft = 3656;
var barRight = 3756;
var barY = d3.scaleLinear().domain([0,24]).range([barBottom,barTop]);
var grad = svg.append("defs").append("linearGradient")
	.attr("id","barGrad")
	.attr("x1",0).attr("x2",0).attr("y1",1).attr("y2",0);
colorValues.forEach(function(v,i){
	grad.append("stop")
		.attr("offset",(v/24*100) + "%")
		.attr("stop-color",colorStops[i]);
});
svg.append("rect")
	.attr("x",barLeft).attr("y",barTop)
	.attr("width",barRight-barLeft).attr("height",barBottom-barTop)
	.attr("fill","url(#barGrad)")
	.attr("stroke","#333").attr("stroke-width",2);
var axBar = svg.append("g")
	.attr("transform","translate(" + barRight + ",0)")
	.call(d3.axisRight(barY).tickValues(colorTicks).tickSize(-16).tickPadding(22));
axBar.select(".domain").remove();
axBar.selectAll("text")
	.attr("x",22)
	.style("font-size","58px");
svg.append("text").attr("class","bold")
	.attr("x",3665).attr("y",1822)
	.style("font-size","78px")
	.style("fill","#111")
	.text("T, °C");
</script>
</body>
</html>
